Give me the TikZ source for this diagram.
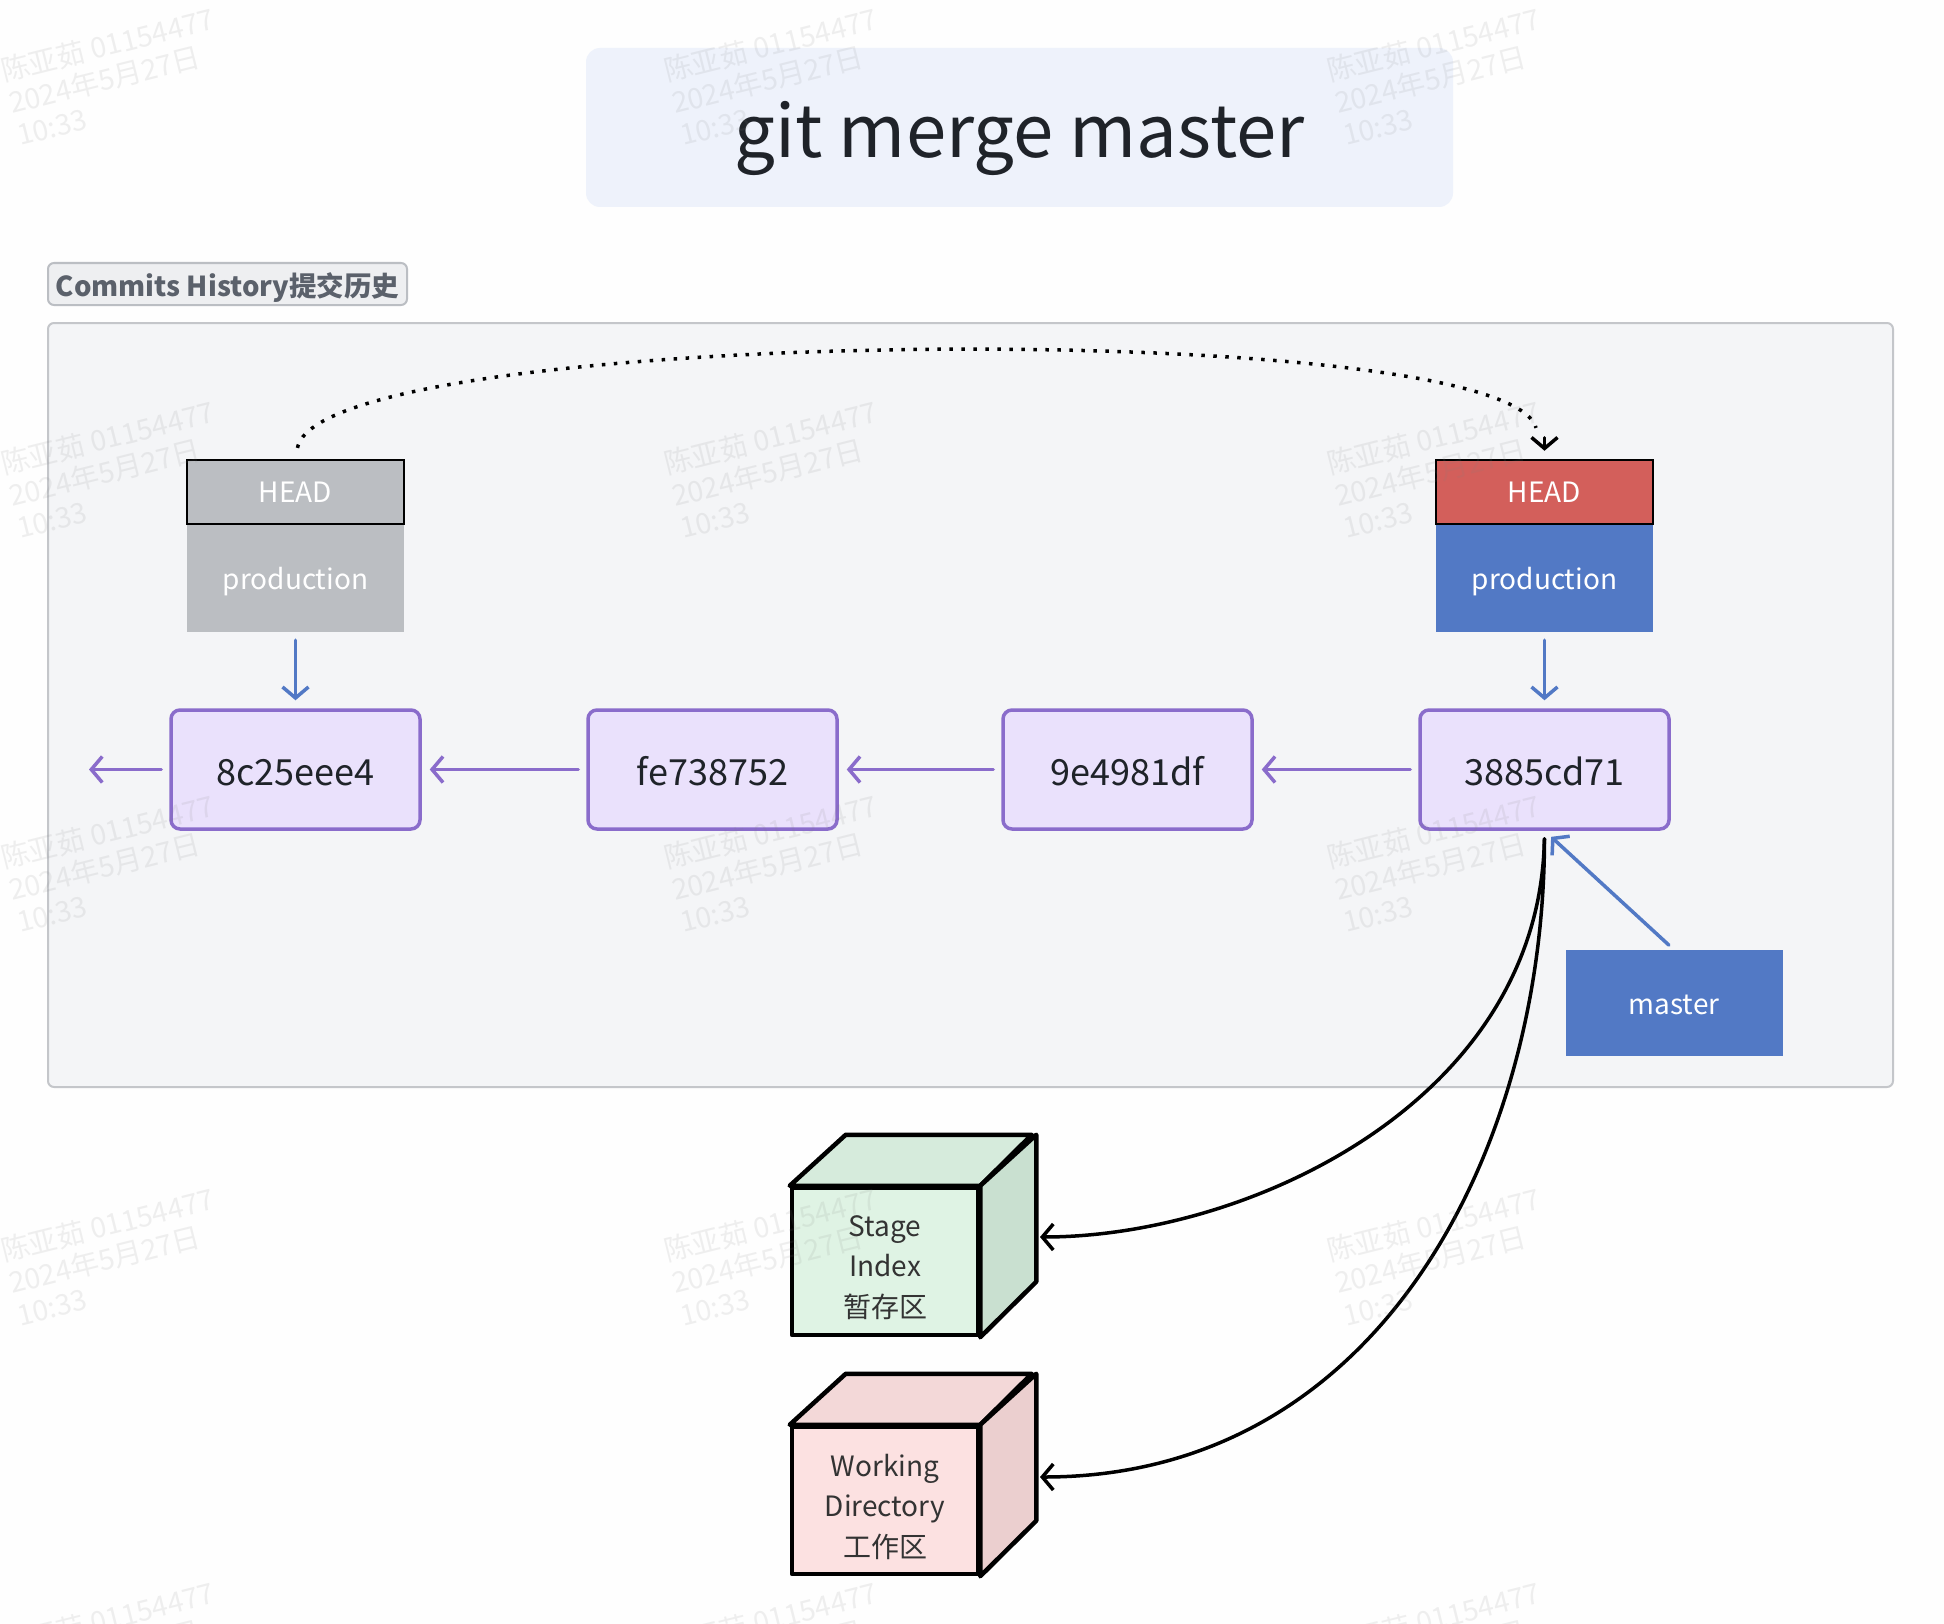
\documentclass[tikz,border=0pt]{standalone}
\usepackage{fontspec}
\setmainfont{Noto Sans CJK SC}
\usetikzlibrary{arrows.meta}

\definecolor{pagebg}{HTML}{FEFEFE}
\definecolor{titlefill}{HTML}{EEF2FB}
\definecolor{ink}{HTML}{1F2329}
\definecolor{panelfill}{HTML}{F4F5F7}
\definecolor{panelline}{HTML}{C4C6CA}
\definecolor{tagfill}{HTML}{EEEFF1}
\definecolor{tagline}{HTML}{BBBEC3}
\definecolor{tagtext}{HTML}{5B616B}
\definecolor{refgray}{HTML}{BBBEC2}
\definecolor{refred}{HTML}{D35F5B}
\definecolor{refblue}{HTML}{5279C5}
\definecolor{commitfill}{HTML}{EAE1FC}
\definecolor{commitline}{HTML}{8A6CCB}
\definecolor{stagefront}{HTML}{DFF3E4}
\definecolor{stagetop}{HTML}{D6EBDC}
\definecolor{stageside}{HTML}{C9E0D0}
\definecolor{workfront}{HTML}{FCE1E1}
\definecolor{worktop}{HTML}{F3D8D8}
\definecolor{workside}{HTML}{EBCFCF}
\definecolor{celltext}{HTML}{333333}

\begin{document}
\begin{tikzpicture}[x=1pt,y=-1pt,
  titlebox/.style={fill=titlefill, rounded corners=14pt, minimum width=867pt,
    minimum height=159pt, inner sep=0pt},
  titletext/.style={inner sep=0pt, anchor=base, text=ink, font=\fontsize{72.5}{86}\selectfont},
  tagbox/.style={fill=tagfill, draw=tagline, line width=2pt, rounded corners=6pt,
    minimum width=359pt, minimum height=42pt, inner sep=0pt, text height=24pt, text depth=0pt,
    text=tagtext, font=\bfseries\fontsize{27.5}{32}\selectfont},
  refhead/.style={draw=black, line width=2.5pt, minimum width=217pt, minimum height=64pt,
    inner sep=0pt, text=white, font=\fontsize{28}{34}\selectfont},
  refbody/.style={minimum width=217pt, minimum height=108pt, inner sep=0pt, text=white,
    text height=22pt, text depth=0pt, font=\fontsize{28}{34}\selectfont},
  commit/.style={draw=commitline, fill=commitfill, line width=3.5pt, rounded corners=9pt,
    minimum width=249pt, minimum height=119pt, inner sep=0pt, text=ink,
    text height=31pt, text depth=0pt, font=\fontsize{36}{42}\selectfont},
  cubeline/.style={draw=black, line width=4.5pt, line join=round},
  cubefront/.style={cubeline, minimum width=186pt, minimum height=147pt, inner sep=0pt},
  cubetext/.style={inner sep=0pt, align=center, text=celltext,
    font=\fontsize{28}{40.5}\selectfont},
  bluearrow/.style={draw=refblue, line width=3.5pt, line cap=round,
    -{Straight Barb[length=11pt,width=26pt]}, shorten <=8pt, shorten >=8pt},
  purplearrow/.style={draw=commitline, line width=3.5pt, line cap=round,
    -{Straight Barb[length=11pt,width=26pt]}, shorten <=8pt, shorten >=8pt},
  blackarrow/.style={draw=black, line width=3.5pt, line cap=round,
    -{Straight Barb[length=11pt,width=26pt]}},
  wmark/.style={text=gray, opacity=0.12, transform shape, inner sep=0pt,
    anchor=base west, font=\fontsize{28.5}{34}\selectfont}
]
\useasboundingbox (0,0) rectangle (1944,1624);
\fill[pagebg] (0,0) rectangle (1944,1624);

% title
\node[titlebox] (title) at (1019.5,127.5) {};
\node[titletext] (titlelabel) at (1019.5,158) {git merge master};

% commit history panel
\node[tagbox] (tag) at (227.5,284) {Commits History提交历史};
\filldraw[fill=panelfill, draw=panelline, line width=2pt, rounded corners=6pt]
  (48,323) rectangle (1893,1087);

% branch references
\node[refbody, fill=refgray] (prodold) at (295.5,578) {production};
\node[refhead, fill=refgray] (headold) at (295.5,492) {HEAD};
\node[refbody, fill=refblue] (prodnew) at (1544.5,578) {production};
\node[refhead, fill=refred] (headnew) at (1544.5,492) {HEAD};
\node[refbody, fill=refblue, minimum height=106pt] (master) at (1674,1003) {master};

% commits
\node[commit] (c1) at (295.5,769.5) {8c25eee4};
\node[commit] (c2) at (712.5,769.5) {fe738752};
\node[commit] (c3) at (1127.5,769.5) {9e4981df};
\node[commit] (c4) at (1544.5,769.5) {3885cd71};
\coordinate (older) at (89,769.5);

\draw[purplearrow] (c4.west) -- (c3.east);
\draw[purplearrow] (c3.west) -- (c2.east);
\draw[purplearrow] (c2.west) -- (c1.east);
\draw[purplearrow, shorten >=0pt] (c1.west) -- (older);

\draw[bluearrow] (prodold.south) -- (c1.north);
\draw[bluearrow] (prodnew.south) -- (c4.north);
\draw[bluearrow, shorten <=7pt, shorten >=9pt] (master.north) -- (c4.south);

% HEAD moves from the old production position to the new one
\draw[black, line width=3.5pt, dash pattern=on 3.5pt off 8.5pt, shorten <=11pt, shorten >=32pt]
  (headold.north) .. controls (320,325) and (1505,315) .. (headnew.north);
\draw[blackarrow, shorten >=8pt] ([yshift=21pt]headnew.north) -- (headnew.north);

% stage index cube
\node[cubefront, fill=stagefront] (stage) at (885,1261.5) {};
\filldraw[cubeline, fill=stagetop] (stage.north west) -- ++(56,-51) -- ++(186,0)
  -- (stage.north east) -- cycle;
\filldraw[cubeline, fill=stageside] (stage.north east) -- ++(56,-51) -- ++(0,147)
  -- (stage.south east) -- cycle;
\node[cubetext] (stagetext) at ([yshift=-6pt]stage.center) {Stage\\Index\\暂存区};

% working directory cube
\node[cubefront, fill=workfront] (work) at (885,1500.5) {};
\filldraw[cubeline, fill=worktop] (work.north west) -- ++(56,-51) -- ++(186,0)
  -- (work.north east) -- cycle;
\filldraw[cubeline, fill=workside] (work.north east) -- ++(56,-51) -- ++(0,147)
  -- (work.south east) -- cycle;
\node[cubetext] (worktext) at ([yshift=-6pt]work.center) {Working\\Directory\\工作区};

\coordinate (stagein) at (1040,1237);
\coordinate (workin) at (1040,1477);
\draw[blackarrow, shorten <=8pt] (c4.south) .. controls (1540,1100) and (1250,1237) .. (stagein);
\draw[blackarrow, shorten <=8pt] (c4.south) .. controls (1544,1150) and (1380,1477) .. (workin);

% watermark grid
\foreach \wx in {4,667,1330}{
  \foreach \wy in {82,475,869,1262,1656}{
    \begin{scope}[shift={(\wx,\wy)}, rotate=14]
      \node[wmark] (wa) at (0,0) {陈亚茹 01154477};
      \node[wmark] (wb) at (0,33) {2024年5月27日};
      \node[wmark] (wc) at (0,66) {10:33};
    \end{scope}
  }
}
\end{tikzpicture}
\end{document}
